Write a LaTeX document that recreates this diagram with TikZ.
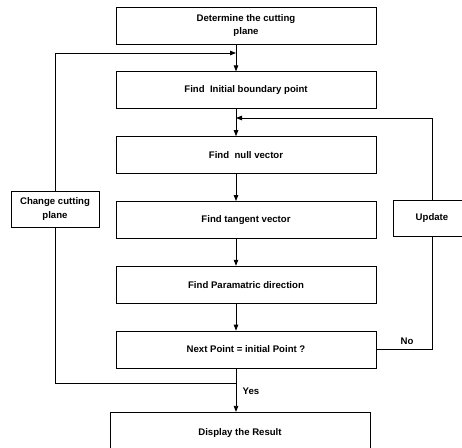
\documentclass[tikz,border=0pt]{standalone}
\usepackage{fontspec}
\setmainfont{Liberation Sans}
\usepackage{tikz}
\usetikzlibrary{positioning,arrows.meta}
\tikzset{stepbox/.style={draw,line width=0.8pt,minimum width=260pt,minimum height=37pt,inner sep=1pt,
    align=center,font=\fontsize{9.6}{13.5}\selectfont\bfseries}}
\tikzset{sidebox/.style={stepbox,minimum width=88pt,minimum height=36pt,fill=white}}
\tikzset{flow/.style={line width=0.8pt,-{Triangle[length=6pt,width=4.5pt]}}}

\begin{document}
\begin{tikzpicture}[x=1pt,y=1pt,node distance = 27pt]
 \useasboundingbox (0,0) rectangle (462,-447);
 \clip (0,0) rectangle (462,-447);
% main column
 \node[stepbox] (det) at (246,-25.5) {Determine the cutting\\plane};
  \node[stepbox,below=of det] (init) {Find\ \ Initial boundary point};
  \node[stepbox,below=of init] (null) {Find\ \ null vector};
  \node[stepbox,below=of null] (tang) {Find tangent vector};
  \node[stepbox,below=of tang] (para) {Find Paramatric direction};
  \node[stepbox,below=of para] (next) {Next Point = initial Point ?};
  \node[stepbox,below=46pt of next,xshift=-6pt,minimum height=42pt,yshift=2.5pt] (disp) {Display the Result};
% loops
  \coordinate (ltop) at (236,-53);
  \coordinate (rtop) at (236,-118);
  \coordinate (lbot) at (236,-383);
  \node[sidebox] (chg) at (55,-209) {Change cutting\\plane};
  \node[sidebox,minimum width=78pt] (upd) at (432,-218) {Update};
  \draw [flow] ([xshift=-10pt]det.south) -- ([xshift=-10pt]init.north);
  \draw [flow] ([xshift=-10pt]init.south) -- ([xshift=-10pt]null.north);
  \draw [flow] ([xshift=-10pt]null.south) -- ([xshift=-10pt]tang.north);
  \draw [flow] ([xshift=-10pt]tang.south) -- ([xshift=-10pt]para.north);
  \draw [flow] ([xshift=-10pt]para.south) -- ([xshift=-10pt]next.north);
  \draw [flow] ([xshift=-10pt]next.south) -- node[right=3pt,pos=0.53,font=\fontsize{9.6}{12}\selectfont\bfseries] {Yes} (disp.north -| lbot);
  \draw [line width=0.8pt] (lbot) -| (chg);
  \draw [flow] (chg) |- (ltop);
  \draw [line width=0.8pt] (next.east) -- node[above=1pt,pos=0.55,font=\fontsize{9.6}{12}\selectfont\bfseries] {No} (next.east -| upd) -- (upd);
  \draw [flow] (upd) |- (rtop);

\end{tikzpicture}
\end{document}
